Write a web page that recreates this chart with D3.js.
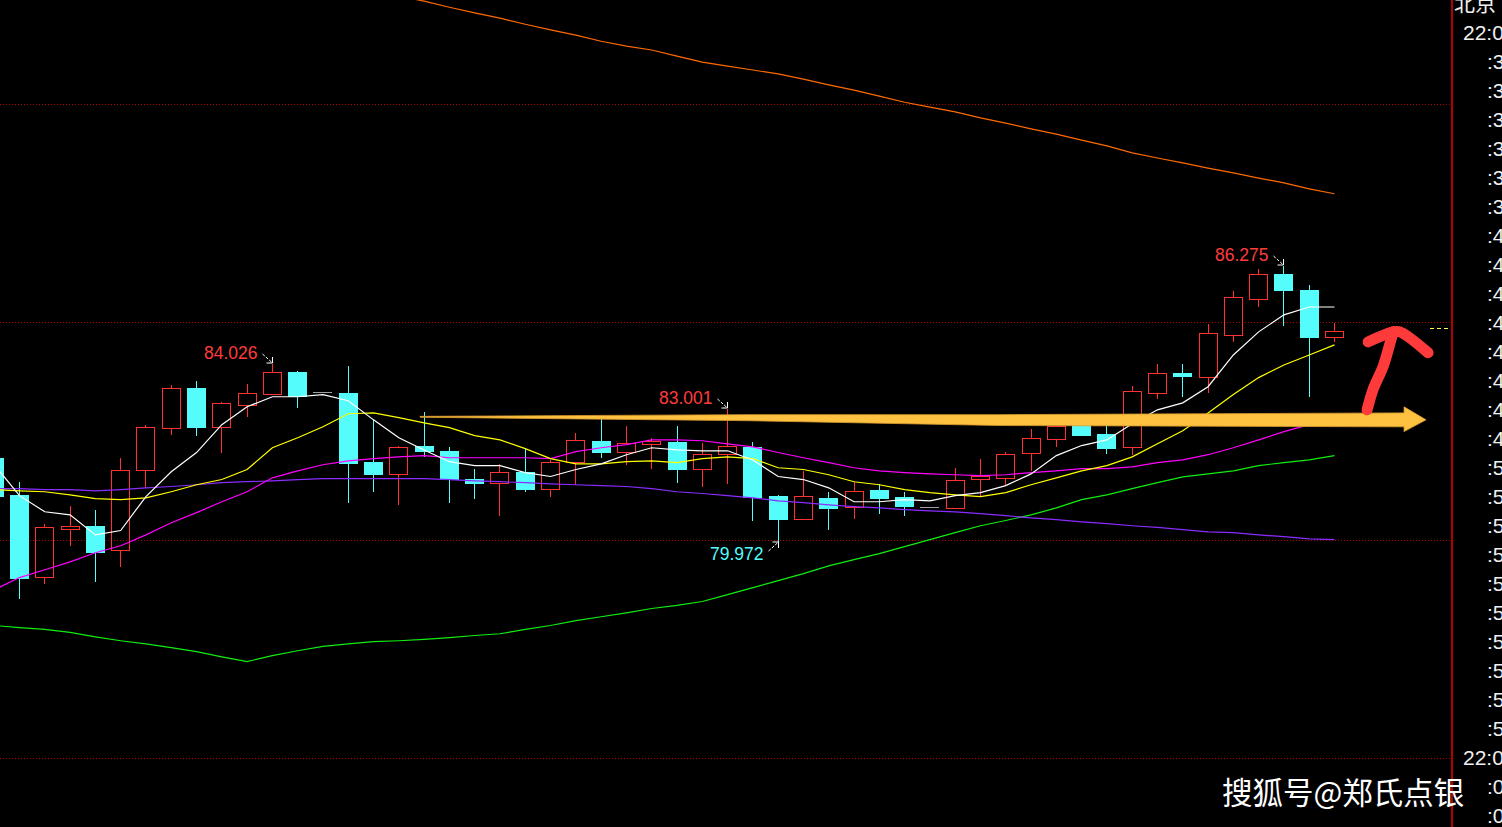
<!DOCTYPE html>
<html><head><meta charset="utf-8">
<script src="https://cdn.jsdelivr.net/npm/d3@7"></script>
<style>html,body{margin:0;padding:0;background:#000;overflow:hidden}svg{display:block}</style>
</head><body><svg id="c" width="1502" height="827"></svg>
<script>
// ---- data (index -1 .. 52) ----
const idx = d3.range(-1, 53);
const open  = [81.88,81.03,79.15,80.25,80.32,79.77,81.61,82.57,83.49,82.59,83.10,83.35,83.85,83.39,83.37,81.79,81.51,82.16,82.04,81.40,81.31,81.56,81.17,81.79,82.27,82.02,82.20,82.25,81.63,81.97,82.13,81.01,80.48,80.96,80.76,81.15,80.99,80.76,80.73,81.40,81.42,82.00,82.32,82.64,82.43,82.13,83.37,83.83,83.74,84.70,85.53,86.10,85.73,84.66];
const high  = [82.06,81.33,80.37,80.78,80.69,81.88,82.64,83.56,83.65,83.17,83.58,84.026,83.86,83.39,83.99,82.75,82.16,82.94,82.13,81.63,81.74,82.09,81.83,82.45,82.80,82.61,82.34,82.61,82.22,83.001,82.25,81.03,81.58,81.10,81.33,81.28,81.10,80.76,81.65,81.86,82.02,82.55,82.75,82.73,82.64,83.53,84.04,84.04,84.95,85.71,86.22,86.275,85.85,84.98];
const low   = [80.92,78.67,78.99,79.86,79.04,79.38,81.19,82.41,82.41,82.00,82.82,83.33,83.05,83.39,80.87,81.12,80.80,81.93,80.87,80.96,80.55,81.12,80.99,81.26,81.90,81.72,81.63,81.33,81.22,81.28,80.44,79.972,80.48,80.25,80.48,80.62,80.57,80.76,80.73,81.01,81.24,81.58,82.13,82.41,82.00,81.95,83.23,83.30,83.37,84.54,85.34,84.93,83.30,84.54];
const close = [81.01,79.13,80.30,80.32,79.72,81.61,82.59,83.49,82.59,83.14,83.37,83.85,83.30,83.39,81.77,81.51,82.13,82.04,81.40,81.31,81.56,81.17,81.79,82.29,82.02,82.22,82.27,81.63,81.97,82.16,80.99,80.48,81.01,80.73,81.12,80.96,80.78,80.76,81.38,81.45,81.97,82.34,82.61,82.41,82.11,83.42,83.83,83.76,84.75,85.57,86.10,85.73,84.66,84.78];
const ma5   = [81.72,81.01,80.64,80.57,80.11,80.21,80.99,81.56,82.00,82.64,83.05,83.28,83.28,83.33,83.19,82.75,82.34,82.06,81.79,81.70,81.70,81.54,81.45,81.61,81.74,81.95,82.11,82.06,82.04,82.04,81.83,81.45,81.38,81.19,80.87,80.87,80.92,80.89,81.01,81.08,81.24,81.51,81.93,82.16,82.29,82.66,82.98,83.14,83.51,84.24,84.77,85.16,85.34,85.34];
const ma10  = [81.15,81.12,81.10,81.03,80.94,80.92,80.96,81.10,81.26,81.38,81.61,82.11,82.34,82.59,82.89,82.91,82.80,82.68,82.57,82.39,82.29,82.09,81.86,81.74,81.74,81.79,81.81,81.77,81.86,81.90,81.86,81.65,81.61,81.49,81.33,81.26,81.15,81.08,81.03,80.99,81.08,81.26,81.42,81.58,81.70,81.90,82.20,82.50,82.91,83.33,83.72,84.01,84.24,84.47];
const ma20  = [78.85,79.13,79.31,79.49,79.70,79.86,80.11,80.39,80.62,80.87,81.10,81.42,81.58,81.72,81.81,81.86,81.90,81.93,81.88,81.88,81.88,81.88,81.86,82.02,82.11,82.18,82.29,82.29,82.27,82.20,82.13,82.00,81.88,81.77,81.65,81.58,81.54,81.51,81.49,81.47,81.49,81.54,81.58,81.63,81.63,81.67,81.77,81.83,81.95,82.11,82.29,82.48,82.64,82.80];
const ma30  = [81.17,81.17,81.15,81.15,81.12,81.15,81.19,81.22,81.26,81.31,81.33,81.35,81.38,81.40,81.40,81.40,81.40,81.40,81.38,81.35,81.33,81.31,81.28,81.26,81.24,81.22,81.17,81.10,81.06,81.01,80.96,80.89,80.85,80.80,80.76,80.73,80.69,80.66,80.64,80.60,80.55,80.50,80.46,80.41,80.37,80.32,80.28,80.23,80.18,80.16,80.11,80.07,80.02,80.00];
const ma60  = [78.03,77.98,77.94,77.87,77.77,77.68,77.61,77.52,77.43,77.31,77.20,77.34,77.45,77.55,77.61,77.66,77.68,77.71,77.75,77.80,77.84,77.94,78.03,78.14,78.23,78.32,78.42,78.49,78.58,78.74,78.90,79.06,79.22,79.40,79.54,79.68,79.84,80.00,80.16,80.32,80.44,80.57,80.73,80.92,81.03,81.17,81.31,81.44,81.51,81.58,81.70,81.77,81.83,81.93];
const ma120 = [null,null,null,null,null,null,null,null,null,null,null,null,null,null,null,null,
  92.48,92.36,92.22,92.09,91.97,91.83,91.70,91.58,91.44,91.33,91.24,91.10,90.96,90.87,90.78,90.69,90.57,90.44,90.32,90.18,90.04,89.93,89.82,89.68,89.56,89.43,89.31,89.17,89.04,88.88,88.76,88.65,88.53,88.42,88.30,88.19,88.05,87.94];
const gridPrices = [75, 80, 85, 90];
const timeLabels = ["北京","22:0",":3",":3",":3",":3",":3",":3",":4",":4",":4",":4",":4",":4",":4",":4",":5",":5",":5",":5",":5",":5",":5",":5",":5",":5","22:0",":0",":0"];
const highMarks = [10, 28, 50];   // candle indices labelled with their high
const lowMarks  = [30];           // candle index labelled with its low
const watermark = "搜狐号@郑氏点银";
// hand-drawn annotations, in (index, price) units
const orangeArrow = [[15.84,82.83],[28.89,82.87],[38.77,82.87],[54.75,82.91],[54.75,83.05],[55.62,82.75],[54.75,82.48],[54.75,82.59],[38.77,82.62],[28.89,82.73],[15.84,82.81]];
const redShaft = [[53.29,82.98],[53.52,83.44],[53.92,83.97],[54.20,84.52],[54.32,84.77]];
const redHead  = [[53.33,84.54],[54.32,84.77],[54.59,84.77],[55.70,84.29]];

// ---- scales ----
const svg = d3.select('#c');
const x = d3.scaleLinear().domain([0, 52]).range([19.5, 1334.5]);
const y = d3.scaleLinear().domain([75, 90]).range([757.5, 104]);
const rowY = d3.scaleLinear().domain([0, timeLabels.length - 1]).range([3, 815]);

const UP = '#ff3232', DOWN = '#54fcfc', DOJI = '#a0a0a0';

svg.append('rect').attr('width', 1502).attr('height', 827).attr('fill', '#000');
svg.append('defs').append('clipPath').attr('id', 'clip')
  .append('rect').attr('x', 0).attr('y', 0).attr('width', 1451).attr('height', 827);

const g = svg.append('g').attr('clip-path', 'url(#clip)');

// grid
g.selectAll('line.grid').data(gridPrices).join('line')
  .attr('x1', 0).attr('x2', 1450)
  .attr('y1', d => Math.round(y(d)) + 0.5).attr('y2', d => Math.round(y(d)) + 0.5)
  .attr('stroke', '#b00000').attr('stroke-width', 1).attr('stroke-dasharray', '1,2');

const rows = idx.map((i, k) => ({i, o: open[k], h: high[k], l: low[k], c: close[k],
  ma5: ma5[k], ma10: ma10[k], ma20: ma20[k], ma30: ma30[k], ma60: ma60[k], ma120: ma120[k]}));
const maDefs = [
  ['ma120', '#ff6a00'], ['ma60', '#10ee10'], ['ma30', '#8a2cff'],
  ['ma20', '#ff00ff'], ['ma10', '#ffff00'], ['ma5', '#ffffff']
];

// candles
const cg = g.append('g').attr('shape-rendering', 'crispEdges');
rows.forEach(d => {
  const cx = Math.floor(x(d.i)) + 0.5;
  const top = Math.round(y(Math.max(d.o, d.c)));
  const bot = Math.round(y(Math.min(d.o, d.c)));
  const yh = Math.round(y(d.h)), yl = Math.round(y(d.l));
  if (d.c > d.o) {
    if (yh < top) cg.append('line').attr('x1', cx).attr('x2', cx).attr('y1', yh).attr('y2', top).attr('stroke', UP);
    if (yl > bot) cg.append('line').attr('x1', cx).attr('x2', cx).attr('y1', bot).attr('y2', yl).attr('stroke', UP);
    cg.append('rect').attr('x', cx - 9).attr('y', top + 0.5).attr('width', 18).attr('height', Math.max(1, bot - top))
      .attr('fill', 'none').attr('stroke', UP);
  } else if (d.c < d.o) {
    cg.append('line').attr('x1', cx).attr('x2', cx).attr('y1', yh).attr('y2', yl + 1).attr('stroke', DOWN);
    cg.append('rect').attr('x', cx - 9.5).attr('y', top).attr('width', 19).attr('height', Math.max(2, bot - top + 1))
      .attr('fill', DOWN);
  } else {
    if (yl > yh) cg.append('line').attr('x1', cx).attr('x2', cx).attr('y1', yh).attr('y2', yl).attr('stroke', DOJI);
    cg.append('line').attr('x1', cx - 9.5).attr('x2', cx + 9.5).attr('y1', top + 0.5).attr('y2', top + 0.5)
      .attr('stroke', DOJI).attr('stroke-width', 1.5);
  }
});

maDefs.forEach(([key, col]) => {
  const line = d3.line().defined(d => d[key] != null).x(d => x(d.i)).y(d => y(d[key]));
  g.append('path').datum(rows).attr('d', line).attr('fill', 'none')
    .attr('stroke', col).attr('stroke-width', 1.2);
});

// high / low labels
function arrow(x1, y1, x2, y2, dy) {
  g.append('line').attr('x1', x1).attr('y1', y1).attr('x2', x2).attr('y2', y2)
    .attr('stroke', '#ffffff').attr('stroke-width', 1).attr('stroke-dasharray', '3,1.5');
  g.append('path').attr('d', `M${x2 - 6},${y2} L${x2},${y2} L${x2},${y2 + dy}`)
    .attr('fill', 'none').attr('stroke', '#ffffff').attr('stroke-width', 1);
}
highMarks.forEach(k => {
  const d = rows.find(r => r.i === k);
  const cx = Math.floor(x(d.i)) + 0.5, yh = Math.round(y(d.h));
  g.append('text').attr('x', cx - 15).attr('y', yh - 5).attr('text-anchor', 'end')
    .attr('font-family', 'Liberation Sans, Arial, sans-serif').attr('font-size', 17.5)
    .attr('fill', '#ff3c3c').text(d.h.toFixed(3));
  arrow(cx - 10, yh - 10, cx, yh - 1, -6);
});
lowMarks.forEach(k => {
  const d = rows.find(r => r.i === k);
  const cx = Math.floor(x(d.i)) + 0.5, yl = Math.round(y(d.l));
  g.append('text').attr('x', cx - 15).attr('y', yl + 19).attr('text-anchor', 'end')
    .attr('font-family', 'Liberation Sans, Arial, sans-serif').attr('font-size', 17.5)
    .attr('fill', DOWN).text(d.l.toFixed(3));
  arrow(cx - 10, yl + 10, cx, yl + 1, 6);
});

// orange hand-drawn arrow
svg.append('path')
  .attr('d', d3.line().x(p => x(p[0])).y(p => y(p[1]))(orangeArrow) + 'Z')
  .attr('fill', '#ffc240').attr('stroke', '#d89a30').attr('stroke-width', 0.8);

// red hand-drawn arrow
const rl = d3.line().curve(d3.curveCatmullRom).x(p => x(p[0])).y(p => y(p[1]));
[redShaft, redHead].forEach(pts => svg.append('path').attr('d', rl(pts))
  .attr('fill', 'none').attr('stroke', '#ff3a3a').attr('stroke-width', 11)
  .attr('stroke-linecap', 'round').attr('stroke-linejoin', 'round'));

// last price marker
const lastY = Math.round(y(close[close.length - 1])) - 2.5;
svg.append('line').attr('x1', 1430).attr('x2', 1451).attr('y1', lastY).attr('y2', lastY)
  .attr('stroke', '#ffff50').attr('stroke-dasharray', '4,3').attr('shape-rendering', 'crispEdges');

// right panel
svg.append('line').attr('x1', 1452).attr('x2', 1452).attr('y1', 0).attr('y2', 827)
  .attr('stroke', '#b00000').attr('stroke-width', 2);
svg.selectAll('text.tl').data(timeLabels).join('text')
  .attr('class', 'tl')
  .attr('x', d => d === '北京' ? 1454 : (d.startsWith(':') ? 1487 : 1463))
  .attr('y', (d, i) => rowY(i))
  .attr('dy', '0.36em')
  .attr('font-family', d => d === '北京' ? 'Noto Sans CJK SC, sans-serif' : 'Liberation Sans, Arial, sans-serif')
  .attr('font-size', 21)
  .attr('fill', '#f0f0f0')
  .text(d => d);

// watermark
svg.append('text').attr('x', 1222).attr('y', 804)
  .attr('font-family', 'Noto Sans CJK SC, sans-serif').attr('font-size', 30.5)
  .attr('fill', '#ffffff').text(watermark);
</script>
</body></html>
